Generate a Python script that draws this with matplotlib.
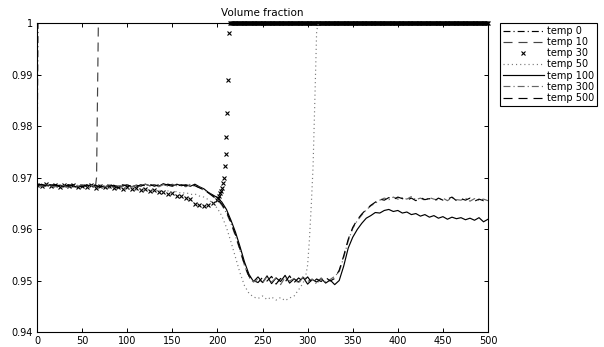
import matplotlib
matplotlib.use("Agg")
import matplotlib.pyplot as plt
import numpy as np

steps = np.arange(0, 501, 5)

temp100 = [
    0.9687, 0.9686, 0.9684, 0.9686, 0.9683, 0.9685, 0.9682, 0.9686, 0.9684, 0.9681,
    0.9685, 0.9683, 0.9686, 0.9682, 0.9684, 0.9681, 0.9685, 0.9683, 0.9680, 0.9684,
    0.9686, 0.9682, 0.9685, 0.9683, 0.9687, 0.9684, 0.9686, 0.9683, 0.9688, 0.9685,
    0.9683, 0.9687, 0.9684, 0.9686, 0.9683,
    0.9687, 0.9682, 0.9678, 0.9671, 0.9666, 0.9661, 0.9652, 0.9638, 0.9617, 0.9594,
    0.9566, 0.9536, 0.9512, 0.9498,
    0.9507, 0.9496, 0.9509, 0.9494, 0.9505, 0.9498, 0.9510, 0.9495, 0.9503, 0.9497,
    0.9506, 0.9493, 0.9502, 0.9497, 0.9504, 0.9495, 0.9501, 0.9492,
    0.9500, 0.9528, 0.9563, 0.9584, 0.9599, 0.9611, 0.9621, 0.9626, 0.9632, 0.9631,
    0.9636, 0.9638, 0.9634, 0.9636, 0.9631, 0.9633, 0.9628, 0.9630, 0.9625, 0.9628,
    0.9623, 0.9626, 0.9621, 0.9624, 0.9619, 0.9623, 0.9620, 0.9622, 0.9618, 0.9621,
    0.9617, 0.9622, 0.9614, 0.9619,
]

temp300 = [
    0.9685, 0.9683, 0.9686, 0.9684, 0.9682, 0.9686, 0.9684, 0.9681, 0.9685, 0.9683,
    0.9686, 0.9682, 0.9685, 0.9683, 0.9686, 0.9682, 0.9685, 0.9681, 0.9684, 0.9683,
    0.9686, 0.9682, 0.9685, 0.9683, 0.9687, 0.9684, 0.9686, 0.9682, 0.9686, 0.9683,
    0.9687, 0.9684, 0.9685, 0.9682, 0.9687,
    0.9683, 0.9681, 0.9675, 0.9671, 0.9663, 0.9657, 0.9646, 0.9631, 0.9611, 0.9586,
    0.9559, 0.9529, 0.9506, 0.9497,
    0.9503, 0.9495, 0.9508, 0.9497, 0.9505, 0.9492, 0.9506, 0.9499, 0.9504, 0.9494,
    0.9508, 0.9498, 0.9503, 0.9493, 0.9505, 0.9497, 0.9502, 0.9508,
    0.9517, 0.9545, 0.9577, 0.9601, 0.9616, 0.9627, 0.9637, 0.9645, 0.9650, 0.9656,
    0.9660, 0.9657, 0.9662, 0.9658, 0.9661, 0.9658, 0.9663, 0.9657, 0.9660, 0.9656,
    0.9661, 0.9658, 0.9656, 0.9660, 0.9655, 0.9661, 0.9657, 0.9656, 0.9660, 0.9654,
    0.9659, 0.9656, 0.9658, 0.9655,
]

temp500 = [
    0.9684, 0.9687, 0.9683, 0.9685, 0.9686, 0.9682, 0.9685, 0.9683, 0.9686, 0.9684,
    0.9682, 0.9686, 0.9683, 0.9685, 0.9681, 0.9686, 0.9683, 0.9685, 0.9682, 0.9686,
    0.9683, 0.9685, 0.9682, 0.9686, 0.9684, 0.9687, 0.9683, 0.9686, 0.9684, 0.9687,
    0.9685, 0.9683, 0.9686, 0.9684, 0.9686,
    0.9684, 0.9680, 0.9676, 0.9670, 0.9664, 0.9658, 0.9648, 0.9634, 0.9613, 0.9589,
    0.9561, 0.9531, 0.9508, 0.9500,
    0.9496, 0.9506, 0.9499, 0.9508, 0.9493, 0.9504, 0.9497, 0.9509, 0.9496, 0.9505,
    0.9498, 0.9507, 0.9495, 0.9503, 0.9498, 0.9506, 0.9499, 0.9504,
    0.9520, 0.9548, 0.9580, 0.9603, 0.9618, 0.9629, 0.9638, 0.9646, 0.9652, 0.9658,
    0.9656, 0.9661, 0.9657, 0.9662, 0.9659, 0.9656, 0.9660, 0.9655, 0.9661, 0.9657,
    0.9659, 0.9654, 0.9660, 0.9656, 0.9658, 0.9662, 0.9655, 0.9659, 0.9656, 0.9660,
    0.9654, 0.9658, 0.9655, 0.9657,
]

# temp 50: every 5 steps up to 295, then the steep climb to the cap at 1
temp50_x = list(range(0, 296, 5)) + [298, 300, 302, 304, 306, 308, 310, 312, 500]
temp50 = [
    0.9684, 0.9686, 0.9683, 0.9685, 0.9682, 0.9685, 0.9683, 0.9684, 0.9681, 0.9685,
    0.9682, 0.9684, 0.9681, 0.9683, 0.9680, 0.9683, 0.9679, 0.9682, 0.9678, 0.9681,
    0.9677, 0.9680, 0.9676, 0.9678, 0.9675, 0.9677, 0.9674, 0.9676, 0.9672, 0.9674,
    0.9671, 0.9673, 0.9669, 0.9671, 0.9667, 0.9668, 0.9664, 0.9662, 0.9657, 0.9650,
    0.9640, 0.9625, 0.9603, 0.9575, 0.9545, 0.9515, 0.9490, 0.9475, 0.9468,
    0.9465, 0.9470, 0.9463, 0.9468, 0.9462, 0.9467, 0.9461, 0.9466, 0.9470, 0.9482,
    0.9495,
    0.9510, 0.9530, 0.9580, 0.9645, 0.9720, 0.9850, 0.9985, 1.0, 1.0,
]

# temp 30: every 5 steps to 200, then each step while it blows up
temp30_x = list(range(0, 201, 5)) + list(range(201, 214))
temp30 = [
    0.9686, 0.9684, 0.9687, 0.9683, 0.9685, 0.9682, 0.9686, 0.9683, 0.9685, 0.9681,
    0.9684, 0.9682, 0.9685, 0.9680, 0.9683, 0.9681, 0.9684, 0.9680,
    0.9682, 0.9678, 0.9681, 0.9677, 0.9679, 0.9675, 0.9677, 0.9673, 0.9675, 0.9671,
    0.9672, 0.9668, 0.9669, 0.9665, 0.9665, 0.9661, 0.9658, 0.9649, 0.9646, 0.9644,
    0.9647, 0.9650, 0.9656,
    0.9660, 0.9664, 0.9669, 0.9674, 0.9680, 0.9689, 0.9700, 0.9722, 0.9746, 0.9779,
    0.9826, 0.9890, 0.9980,
]
# capped at 1 for the rest of the run (one marker per step)
temp30_cap_x = np.arange(214, 501, 1)
temp30_cap = [1.0] * len(temp30_cap_x)

temp10_x = list(range(0, 66, 5)) + [66, 68, 500]
temp10 = [
    0.9686, 0.9683, 0.9685, 0.9682, 0.9686, 0.9684, 0.9681, 0.9685, 0.9683, 0.9686,
    0.9682, 0.9685, 0.9684, 0.9686, 0.9700, 1.0, 1.0,
]

temp0_x = [0, 1, 500]
temp0 = [0.9686, 1.0, 1.0]

yticks = [0.94, 0.95, 0.96, 0.97, 0.98, 0.99, 1.0]
ytick_labels = ["0.94", "0.95", "0.96", "0.97", "0.98", "0.99", "1"]
xticks = list(range(0, 501, 50))

for s in (temp100, temp300, temp500):
    assert len(s) == len(steps)
assert len(temp50) == len(temp50_x)
assert len(temp30) == len(temp30_x)
assert len(temp10) == len(temp10_x)

plt.rcParams["font.family"] = "DejaVu Sans"
plt.rcParams["lines.scale_dashes"] = False

fig = plt.figure(figsize=(6.04, 3.47), dpi=100)
ax = fig.add_axes([0.0613, 0.0432, 0.7467, 0.8905])

lw = 0.85
dashdot = (0, (5, 2.2, 0.8, 2.2))
dashed = (0, (6.5, 4.3))
ax.plot(temp0_x, temp0, color="black", lw=lw, ls=dashdot, label="temp 0")
ax.plot(temp10_x, temp10, color="#444444", lw=lw, ls=dashed, label="temp 10")
ax.plot(temp30_x, temp30, color="black", ls="none", marker="x", ms=2.4, mew=0.8,
        label="temp 30")
ax.plot(temp30_cap_x, temp30_cap, color="black", ls="none", marker="x", ms=2.4,
        mew=0.8, clip_on=False)
ax.plot(temp50_x, temp50, color="#777777", lw=lw, ls=(0, (0.8, 2.2)), label="temp 50")
ax.plot(steps, temp100, color="black", lw=lw, ls="-", label="temp 100")
ax.plot(steps, temp300, color="#666666", lw=lw, ls=dashdot, label="temp 300")
ax.plot(steps, temp500, color="black", lw=lw, ls=dashed, label="temp 500")

ax.set_xlim(0, 500)
ax.set_ylim(0.94, 1.0)
ax.set_xticks(xticks)
ax.set_yticks(yticks)
ax.set_yticklabels(ytick_labels)
ax.tick_params(direction="in", length=3, width=0.7, labelsize=7, pad=3,
               top=True, right=True)
for sp in ax.spines.values():
    sp.set_linewidth(0.8)
ax.set_title("Volume fraction", fontsize=7.5, pad=5)

leg = ax.legend(loc="upper left", bbox_to_anchor=(500 / 604, 1 - 23 / 347),
                bbox_transform=fig.transFigure, borderaxespad=0, fontsize=7,
                handlelength=4.2, handletextpad=0.3, labelspacing=0.12,
                borderpad=0.3, fancybox=False, framealpha=1, edgecolor="black")
leg.get_frame().set_linewidth(0.8)

fig.savefig("out.png", dpi=100)
